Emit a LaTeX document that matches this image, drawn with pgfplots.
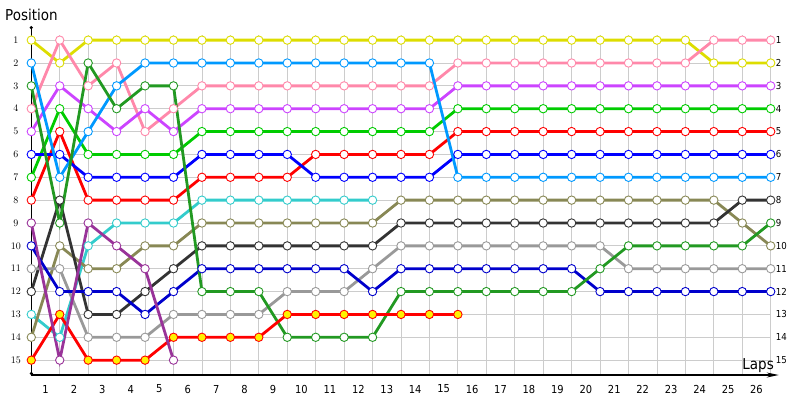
\documentclass[border=0pt]{standalone}
\usepackage{fontspec}
\setmainfont{DejaVu Sans Condensed}
\usepackage{pgfplots}
\pgfplotsset{compat=1.18}
\usetikzlibrary{arrows.meta}

\definecolor{cyel}{HTML}{DDDD00}
\definecolor{cpink}{HTML}{FF88AA}
\definecolor{csky}{HTML}{0099FF}
\definecolor{cdgreen}{HTML}{229922}
\definecolor{cviolet}{HTML}{CC44FF}
\definecolor{cgreen}{HTML}{00CC00}
\definecolor{cblue}{HTML}{0000FF}
\definecolor{cred}{HTML}{FF0000}
\definecolor{ccyan}{HTML}{33CCCC}
\definecolor{colive}{HTML}{888855}
\definecolor{cdgray}{HTML}{333333}
\definecolor{cmblue}{HTML}{0000CC}
\definecolor{clgray}{HTML}{999999}
\definecolor{cpurple}{HTML}{993399}
\definecolor{gridc}{HTML}{CCCCCC}

\pgfplotsset{
  drv/.style={color=#1, line width=2.8pt, mark=*, mark size=4.2pt,
    mark options={fill=white, draw=#1, line width=0.9pt, solid}},
}

\begin{document}
\begin{tikzpicture}
\useasboundingbox (-31.3pt,-25pt) rectangle (768.7pt,375pt);
\begin{axis}[
  at={(0pt,0pt)}, anchor=south west,
  scale only axis,
  width=739.4pt, height=339.9pt,
  xmin=0, xmax=26,
  ymin=0.78, ymax=15.65,
  y dir=reverse,
  clip=false,
  axis x line=bottom,
  axis y line=left,
  x axis line style={line width=1.2pt, -{Stealth[length=12pt,width=5pt]}, shorten >=-8pt},
  y axis line style={line width=1.2pt, {Circle[length=3pt]}-{Circle[length=3pt]}, shorten <=-9pt},
  major tick length=0pt, minor tick length=0pt,
  xtick={0.5,1.5,...,25.5},
  xticklabels={1,2,3,4,5,6,7,8,9,10,11,12,13,14,15,16,17,18,19,20,21,22,23,24,25,26},
  minor xtick={0,1,...,26},
  ytick={1,2,...,15},
  xmajorgrids=false, xminorgrids=true, ymajorgrids=true,
  minor grid style={gridc, line width=0.8pt},
  major grid style={gridc, line width=0.8pt},
  xticklabel style={font=\fontsize{11}{11}\selectfont, anchor=center, inner sep=0pt, yshift=-14pt},
  yticklabel style={font=\fontsize{9.6}{9.6}\selectfont, anchor=center, inner sep=0pt, xshift=-15.5pt},
]
% yellow
\addplot[drv=cyel] coordinates {(0,1)(1,2)(2,1)(3,1)(4,1)(5,1)(6,1)(7,1)(8,1)(9,1)(10,1)(11,1)(12,1)(13,1)(14,1)(15,1)(16,1)(17,1)(18,1)(19,1)(20,1)(21,1)(22,1)(23,1)(24,2)(25,2)(26,2)};
% pink
\addplot[drv=cpink] coordinates {(0,4)(1,1)(2,3)(3,2)(4,5)(5,4)(6,3)(7,3)(8,3)(9,3)(10,3)(11,3)(12,3)(13,3)(14,3)(15,2)(16,2)(17,2)(18,2)(19,2)(20,2)(21,2)(22,2)(23,2)(24,1)(25,1)(26,1)};
% violet
\addplot[drv=cviolet] coordinates {(0,5)(1,3)(2,4)(3,5)(4,4)(5,5)(6,4)(7,4)(8,4)(9,4)(10,4)(11,4)(12,4)(13,4)(14,4)(15,3)(16,3)(17,3)(18,3)(19,3)(20,3)(21,3)(22,3)(23,3)(24,3)(25,3)(26,3)};
% bright green
\addplot[drv=cgreen] coordinates {(0,7)(1,4)(2,6)(3,6)(4,6)(5,6)(6,5)(7,5)(8,5)(9,5)(10,5)(11,5)(12,5)(13,5)(14,5)(15,4)(16,4)(17,4)(18,4)(19,4)(20,4)(21,4)(22,4)(23,4)(24,4)(25,4)(26,4)};
% red
\addplot[drv=cred] coordinates {(0,8)(1,5)(2,8)(3,8)(4,8)(5,8)(6,7)(7,7)(8,7)(9,7)(10,6)(11,6)(12,6)(13,6)(14,6)(15,5)(16,5)(17,5)(18,5)(19,5)(20,5)(21,5)(22,5)(23,5)(24,5)(25,5)(26,5)};
% blue
\addplot[drv=cblue] coordinates {(0,6)(1,6)(2,7)(3,7)(4,7)(5,7)(6,6)(7,6)(8,6)(9,6)(10,7)(11,7)(12,7)(13,7)(14,7)(15,6)(16,6)(17,6)(18,6)(19,6)(20,6)(21,6)(22,6)(23,6)(24,6)(25,6)(26,6)};
% sky blue
\addplot[drv=csky] coordinates {(0,2)(1,7)(2,5)(3,3)(4,2)(5,2)(6,2)(7,2)(8,2)(9,2)(10,2)(11,2)(12,2)(13,2)(14,2)(15,7)(16,7)(17,7)(18,7)(19,7)(20,7)(21,7)(22,7)(23,7)(24,7)(25,7)(26,7)};
% cyan
\addplot[drv=ccyan] coordinates {(0,13)(1,14)(2,10)(3,9)(4,9)(5,9)(6,8)(7,8)(8,8)(9,8)(10,8)(11,8)(12,8)};
% olive
\addplot[drv=colive] coordinates {(0,14)(1,10)(2,11)(3,11)(4,10)(5,10)(6,9)(7,9)(8,9)(9,9)(10,9)(11,9)(12,9)(13,8)(14,8)(15,8)(16,8)(17,8)(18,8)(19,8)(20,8)(21,8)(22,8)(23,8)(24,8)(25,9)(26,10)};
% dark gray
\addplot[drv=cdgray] coordinates {(0,12)(1,8)(2,13)(3,13)(4,12)(5,11)(6,10)(7,10)(8,10)(9,10)(10,10)(11,10)(12,10)(13,9)(14,9)(15,9)(16,9)(17,9)(18,9)(19,9)(20,9)(21,9)(22,9)(23,9)(24,9)(25,8)(26,8)};
% light gray
\addplot[drv=clgray] coordinates {(0,11)(1,11)(2,14)(3,14)(4,14)(5,13)(6,13)(7,13)(8,13)(9,12)(10,12)(11,12)(12,11)(13,10)(14,10)(15,10)(16,10)(17,10)(18,10)(19,10)(20,10)(21,11)(22,11)(23,11)(24,11)(25,11)(26,11)};
% medium blue
\addplot[drv=cmblue] coordinates {(0,10)(1,12)(2,12)(3,12)(4,13)(5,12)(6,11)(7,11)(8,11)(9,11)(10,11)(11,11)(12,12)(13,11)(14,11)(15,11)(16,11)(17,11)(18,11)(19,11)(20,12)(21,12)(22,12)(23,12)(24,12)(25,12)(26,12)};
% dark green
\addplot[drv=cdgreen] coordinates {(0,3)(1,9)(2,2)(3,4)(4,3)(5,3)(6,12)(7,12)(8,12)(9,14)(10,14)(11,14)(12,14)(13,12)(14,12)(15,12)(16,12)(17,12)(18,12)(19,12)(20,11)(21,10)(22,10)(23,10)(24,10)(25,10)(26,9)};
% red with yellow marks
\addplot[color=cred, line width=2.8pt, mark=*, mark size=4.2pt,
  mark options={fill=yellow, draw=cred, line width=0.9pt, solid}]
  coordinates {(0,15)(1,13)(2,15)(3,15)(4,15)(5,14)(6,14)(7,14)(8,14)(9,13)(10,13)(11,13)(12,13)(13,13)(14,13)(15,13)};
% purple
\addplot[drv=cpurple] coordinates {(0,9)(1,15)(2,9)(3,10)(4,11)(5,15)};
% right-hand position labels
\pgfplotsinvokeforeach{1,...,15}{
  \node[anchor=west, inner sep=0pt, xshift=5pt, font=\fontsize{9.6}{9.6}\selectfont] at (axis cs:26,#1) {#1};
}
\end{axis}
\node[anchor=base west, inner sep=0pt, font=\fontsize{15}{15}\selectfont] at (-26.3pt,354.3pt) {Position};
\node[anchor=base east, inner sep=0pt, font=\fontsize{15}{15}\selectfont] at (742.7pt,6pt) {Laps};
\end{tikzpicture}
\end{document}
